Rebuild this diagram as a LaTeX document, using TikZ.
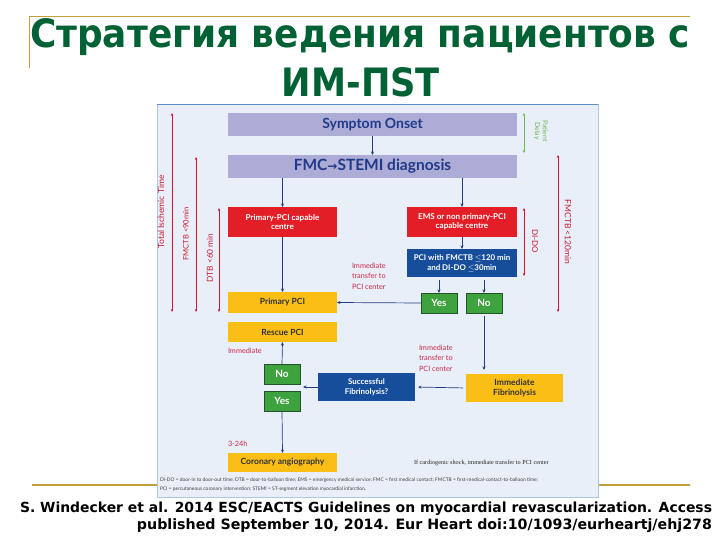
\documentclass[tikz,border=0pt]{standalone}
\usepackage{fontspec}
\setmainfont{Lato}
\newfontfamily\dejavu{DejaVu Sans}
\newfontfamily\serifx{Liberation Serif}
\usetikzlibrary{arrows.meta}
\definecolor{titlegreen}{RGB}{0,98,52}
\definecolor{goldline}{RGB}{196,158,60}
\definecolor{diagbg}{RGB}{233,239,248}
\definecolor{diagedge}{RGB}{90,140,200}
\definecolor{lavender}{RGB}{172,172,214}
\definecolor{navytext}{RGB}{32,58,138}
\definecolor{boxred}{RGB}{228,30,38}
\definecolor{boxblue}{RGB}{22,78,156}
\definecolor{boxgreen}{RGB}{62,162,62}
\definecolor{greenedge}{RGB}{34,84,40}
\definecolor{boxyellow}{RGB}{250,190,20}
\definecolor{darktext}{RGB}{48,48,60}
\definecolor{annored}{RGB}{200,40,72}
\definecolor{brackred}{RGB}{204,24,52}
\definecolor{brackgreen}{RGB}{112,180,84}
\definecolor{arrowblue}{RGB}{36,60,130}
\newcommand\bx[7]{\node[#6, minimum width={#4-#2}, minimum height={#5-#3}] (#1) at ({(#2+#4)/2},{(#3+#5)/2}) {#7};}
\begin{document}
\begin{tikzpicture}[x=1pt,y=-1pt,
  every node/.style={inner sep=0pt, outer sep=0pt},
  lav/.style={fill=lavender, text=navytext, font=\bfseries},
  redbox/.style={fill=boxred, text=white, font=\fontsize{8.1}{9.3}\selectfont\bfseries, align=center},
  bluebox/.style={fill=boxblue, text=white, font=\fontsize{7.9}{9.5}\selectfont\bfseries, align=center},
  greenbox/.style={fill=boxgreen, draw=greenedge, line width=0.6pt, text=white, font=\fontsize{10}{11}\selectfont\bfseries},
  yelbox/.style={fill=boxyellow, text=darktext, font=\fontsize{8.5}{10}\selectfont\bfseries, align=center},
  arr/.style={-{Stealth[length=3.5pt,width=3pt]}, draw=arrowblue, line width=0.7pt},
  brack/.style={{Stealth[length=3pt,width=2.6pt]}-{Stealth[length=3pt,width=2.6pt]}, draw=brackred, line width=0.7pt},
  gbrack/.style={{Stealth[length=3pt,width=2.6pt]}-{Stealth[length=3pt,width=2.6pt]}, draw=brackgreen, line width=0.7pt},
  anno/.style={text=annored, font=\fontsize{7.3}{10.5}\selectfont, align=left},
  blabel/.style={text=brackred, font=\fontsize{7.6}{8}\selectfont}
]
\useasboundingbox[fill=white] (0,0) rectangle (720,540);

% slide decorations
\draw[goldline, line width=1pt] (29,17) -- (690,17);
\draw[goldline, line width=1pt] (29,17) -- (29,68);
\draw[goldline, line width=1.6pt] (32,485) -- (690,485);

% title
\node[anchor=base west, text=titlegreen] (t1) at (30,48) {\resizebox{660pt}{29pt}{\dejavu\bfseries Стратегия ведения пациентов с}};
\node[anchor=base, text=titlegreen] (t2) at (361,97) {\resizebox{158pt}{29pt}{\dejavu\bfseries ИМ-ПST}};

% diagram frame
\fill[diagbg] (157,104) rectangle (598,497);
\draw[diagedge!50, line width=0.5pt] (157,104) rectangle (598,497);
\draw[diagedge, line width=0.8pt] (157,104) -- (598,104);

% top boxes
\bx{onset}{228}{113}{517}{136}{lav, font=\fontsize{14}{15}\selectfont\bfseries}{Symptom Onset}
\bx{fmc}{228}{155}{517}{178}{lav, font=\fontsize{15.5}{16}\selectfont\bfseries}{FMC{\dejavu\fontsize{12}{12}\selectfont →}STEMI diagnosis}

% left branch
\bx{pcicap}{228}{207}{337}{237}{redbox}{Primary-PCI capable\\centre}
\bx{ppci}{228}{292}{337}{313}{yelbox}{Primary PCI}
\bx{rescue}{228}{322}{337}{342}{yelbox}{Rescue PCI}
\bx{noL}{264}{364}{300}{384}{greenbox}{No}
\bx{yesL}{264}{391}{300}{411}{greenbox}{Yes}
\bx{cor}{228}{453}{337}{472}{yelbox}{Coronary angiography}

% right branch
\bx{ems}{407}{207}{517}{237}{redbox}{EMS or non primary-PCI\\capable centre}
\bx{pciw}{407}{249}{517}{277}{bluebox}{PCI with FMCTB \(\leq\)120 min\\and DI-DO \(\leq\)30min}
\bx{yesR}{421}{293}{457}{313}{greenbox}{Yes}
\bx{noR}{466}{293}{502}{313}{greenbox}{No}
\bx{succ}{318}{373}{415}{401}{bluebox}{Successful\\Fibrinolysis?}
\bx{imfib}{466}{374}{563}{402}{yelbox}{Immediate\\Fibrinolysis}

% connectors
\draw[arr] (onset.south) -- (fmc.north);
\draw[arr] (fmc.south -| pcicap.north) -- (pcicap.north);
\draw[arr] (fmc.south -| ems.north) -- (ems.north);
\draw[arr] (pcicap.south) -- (ppci.north);
\draw[arr] (ems.south) -- (pciw.north);
\draw[arr, shorten <=3pt] (pciw.south -| yesR.north) -- (yesR.north);
\draw[arr, shorten <=3pt] (pciw.south -| noR.north) -- (noR.north);
\draw[arr] (yesR.west) -- (ppci.east);
\draw[arr, shorten <=3pt, shorten >=4pt] (noR.south) -- (noR.south |- imfib.north);
\draw[arr, shorten <=3pt, shorten >=3pt] (imfib.west) -- (succ.east);
\draw[arr, shorten >=3pt] (succ.west) -- (succ.west -| noL.east);
\draw[arr] (noL.north) -- (rescue.south);
\draw[arr] (yesL.south) -- (cor.north);

% annotations
\node[anno, anchor=north west] (tr1) at (352,263) {Immediate\\transfer to\\PCI center};
\node[anno, anchor=north west] (tr2) at (419,345) {Immediate\\transfer to\\PCI center};
\node[anno, anchor=west] (imm) at (228,351) {Immediate};
\node[anno, anchor=west] (h324) at (228,444) {3-24h};

% left time brackets
\coordinate (tA1) at (172,113); \coordinate (tA2) at (172,312);
\coordinate (tB1) at (196,157); \coordinate (tB2) at (196,312);
\coordinate (tC1) at (219,208); \coordinate (tC2) at (219,312);
\draw[brack] (tA1) -- (tA2);
\draw[brack] (tB1) -- (tB2);
\draw[brack] (tC1) -- (tC2);
\node[blabel, rotate=90, font=\fontsize{8.5}{9}\selectfont] (ltA) at (161,212) {Total Ischemic Time};
\node[blabel, rotate=90] (ltB) at (186,234) {FMCTB <90min};
\node[blabel, rotate=90, font=\fontsize{8.3}{9}\selectfont] (ltC) at (210,258) {DTB <60 min};

% right brackets
\coordinate (pd1) at (524,113); \coordinate (pd2) at (524,153);
\coordinate (dd1) at (524,208); \coordinate (dd2) at (524,276);
\coordinate (fm1) at (558,155); \coordinate (fm2) at (558,312);
\draw[gbrack] (pd1) -- (pd2);
\draw[brack] (dd1) -- (dd2);
\draw[brack] (fm1) -- (fm2);
\node[rotate=-90, text=brackgreen, font=\fontsize{6.8}{7.8}\selectfont, align=center] (pdl) at (541,131) {Patient\\Delay};
\node[blabel, rotate=-90, font=\fontsize{8}{9}\selectfont] (ddl) at (535,241) {DI-DO};
\node[blabel, rotate=-90, font=\fontsize{8.5}{9}\selectfont] (fml) at (568,232) {FMCTB <120min};

% notes
\node[anchor=west, font=\serifx\fontsize{6.2}{7}\selectfont, text=black!85] (shock) at (414,463) {If cardiogenic shock, immediate transfer to PCI center};
\node[anchor=north west, align=left, font=\fontsize{4.9}{9}\selectfont, text=black!75] (legend) at (160,478)
 {DI-DO = door-in to door-out time; DTB = door-to-balloon time; EMS = emergency medical service; FMC = first medical contact; FMCTB = first-medical-contact-to-balloon time;\\
  PCI = percutaneous coronary intervention; STEMI = ST-segment elevation myocardial infarction.};

% citation
\node[anchor=base west, font=\dejavu\bfseries\fontsize{13}{15}\selectfont] (cit1) at (20,512) {\resizebox{692pt}{!}{S. Windecker et al. 2014 ESC/EACTS Guidelines on myocardial revascularization. Access}};
\node[anchor=base east, font=\dejavu\bfseries\fontsize{13}{15}\selectfont] (cit2) at (712,529) {\resizebox{575pt}{!}{published September 10, 2014. Eur Heart doi:10/1093/eurheartj/ehj278}};
\end{tikzpicture}
\end{document}
